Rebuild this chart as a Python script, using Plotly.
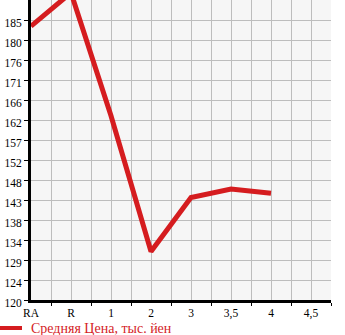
import plotly.graph_objects as go

categories = ["RA", "R", "1", "2", "3", "3,5", "4", "4,5"]
prices = [183.9, 191.7, 163.0, 131.3, 143.9, 145.9, 144.9, None]
y_tick_values = [120 + k * 70 / 15 for k in range(15)]
y_tick_labels = ["120", "124", "129", "134", "138", "143", "148", "152",
                 "157", "162", "166", "171", "176", "180", "185"]
legend_label = "Средняя Цена, тыс. йен"

RED = "#d51c1f"
FONT = "Liberation Serif"

x_idx = list(range(len(categories)))

fig = go.Figure()
fig.add_trace(go.Scatter(
    x=x_idx, y=prices, mode="lines",
    line=dict(color=RED, width=5),
    connectgaps=False, showlegend=False, hoverinfo="skip",
))

fig.update_layout(
    width=345, height=335,
    margin=dict(l=31, r=14, t=0, b=35, autoexpand=False),
    paper_bgcolor="white",
    plot_bgcolor="#f6f6f6",
    showlegend=False,
    font=dict(family=FONT, size=11, color="black"),
)

fig.update_xaxes(
    range=[0, 7.5],
    tickmode="array", tickvals=x_idx, ticktext=categories,
    ticks="", ticklen=0,
    showgrid=True, gridcolor="#bdbdbd", gridwidth=1,
    minor=dict(tickmode="array", tickvals=[k + 0.5 for k in range(8)],
               ticks="outside", ticklen=3, tickcolor="black", tickwidth=1,
               showgrid=True, gridcolor="#bdbdbd", gridwidth=1),
    showline=True, linecolor="black", linewidth=3,
    zeroline=False,
    tickfont=dict(family=FONT, size=11.5, color="black"),
    fixedrange=True,
)

fig.update_yaxes(
    range=[120, 190],
    tickmode="array", tickvals=y_tick_values, ticktext=y_tick_labels,
    ticks="outside", ticklen=4, tickcolor="black", tickwidth=1,
    showgrid=True, gridcolor="#bdbdbd", gridwidth=1,
    showline=True, linecolor="black", linewidth=3,
    zeroline=False,
    ticklabelshift=3,
    tickfont=dict(family=FONT, size=11.5, color="black"),
    fixedrange=True,
)

# legend drawn below the plot
fig.add_shape(type="line", xref="paper", yref="paper",
              x0=-31 / 300, x1=-9 / 300, y0=-28 / 300, y1=-28 / 300,
              line=dict(color=RED, width=4))
fig.add_annotation(xref="paper", yref="paper", x=-2 / 300, y=-28 / 300,
                   xanchor="left", yanchor="middle", showarrow=False,
                   text=legend_label,
                   font=dict(family=FONT, size=14, color=RED))

fig.write_html("out.html", config={"displayModeBar": False})
